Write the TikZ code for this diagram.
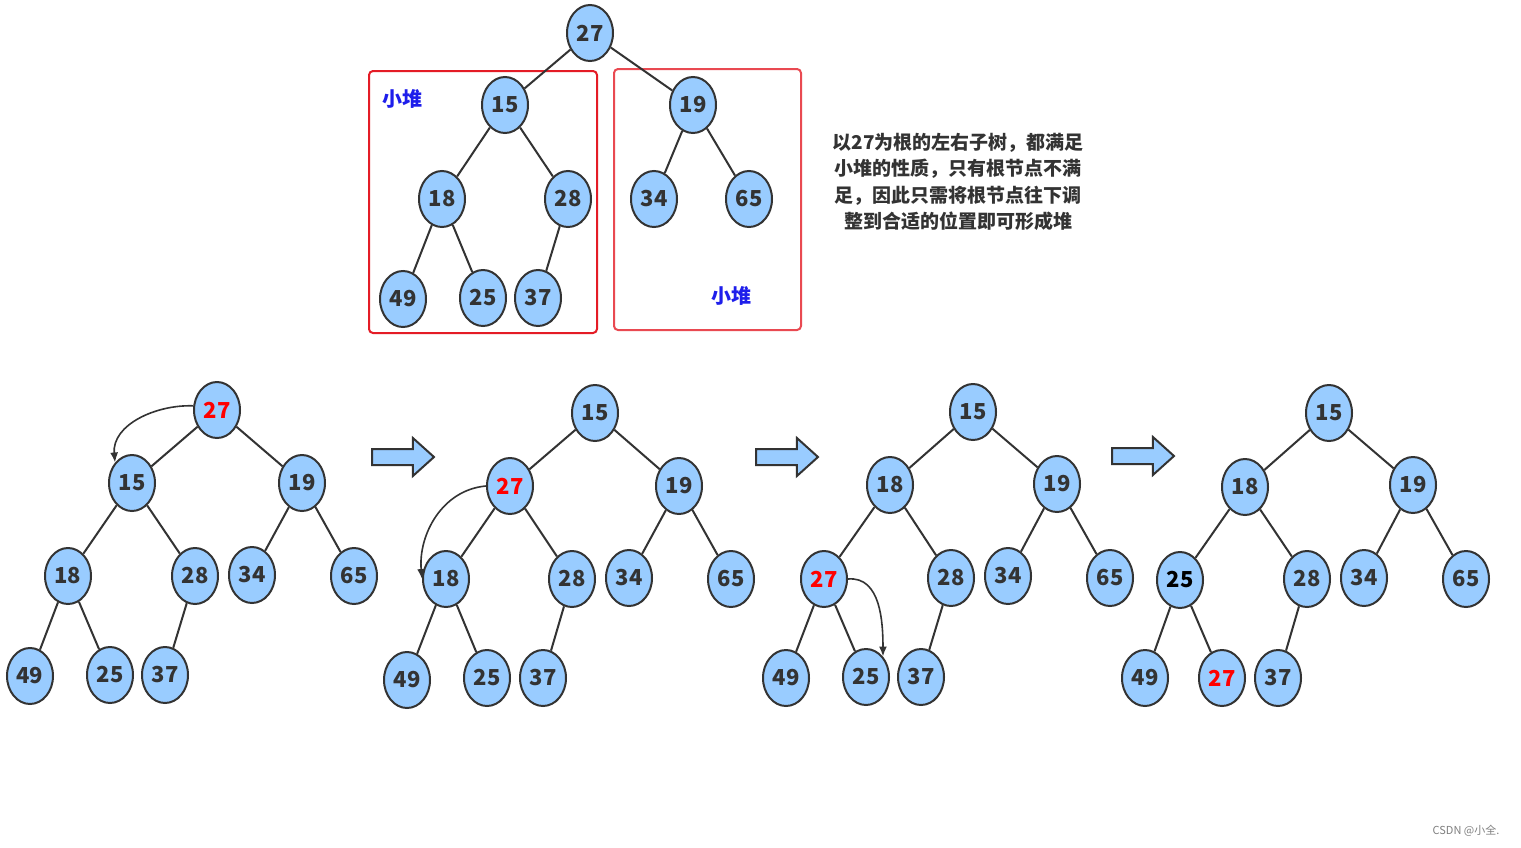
\documentclass[tikz,border=0pt]{standalone}
\usepackage{fontspec}
\setmainfont{Noto Sans CJK SC}
\usetikzlibrary{shapes.geometric, shapes.arrows, arrows.meta}

\definecolor{nodeblue}{RGB}{153,204,255}
\definecolor{linegray}{RGB}{51,51,51}
\definecolor{boxred}{RGB}{228,28,38}
\definecolor{heapblue}{RGB}{30,30,235}

\begin{document}
\begin{tikzpicture}[x=0.5pt, y=-0.5pt,
  hnode/.style={draw=linegray, line width=1pt, fill=nodeblue, ellipse, inner sep=0pt,
    minimum width=23pt, minimum height=28pt, text=linegray,
    font=\bfseries\fontsize{11}{11}\selectfont},
  hot/.style={hnode, text=red},
  edge/.style={draw=linegray, line width=1pt},
  swap/.style={draw=linegray, line width=0.8pt, -{Latex[length=5pt, width=4pt]}},
  blockarrow/.style={single arrow, draw=linegray, fill=nodeblue, line width=1pt,
    inner sep=3.5pt, minimum height=31pt, single arrow head extend=5.5pt,
    single arrow tip angle=84, anchor=tail},
  heaplabel/.style={text=heapblue, font=\bfseries\fontsize{10}{10}\selectfont}]
\useasboundingbox [fill=white] (0,0) rectangle (1521,847);

% the starting tree and its two sub heaps
\draw [boxred, line width=1pt, rounded corners=2pt] (369,71) rectangle (597,333);
\draw [boxred!80, line width=1pt, rounded corners=2pt] (614,69) rectangle (801,330);
\node [heaplabel] (lheap) at (402,99) {小堆};
\node [heaplabel] (rheap) at (731,296) {小堆};

\node [hnode] (t27) at (590,33) {27};
\node [hnode] (t15) at (505,105) {15};
\node [hnode] (t19) at (693,105) {19};
\node [hnode] (t18) at (442,199) {18};
\node [hnode] (t28) at (568,199) {28};
\node [hnode] (t34) at (654,199) {34};
\node [hnode] (t65) at (749,199) {65};
\node [hnode] (t49) at (403,299) {49};
\node [hnode] (t25) at (483,298) {25};
\node [hnode] (t37) at (538,298) {37};
\draw [edge] (t27) -- (t15);
\draw [edge] (t27) -- (t19);
\draw [edge] (t15) -- (t18);
\draw [edge] (t15) -- (t28);
\draw [edge] (t19) -- (t34);
\draw [edge] (t19) -- (t65);
\draw [edge] (t18) -- (t49);
\draw [edge] (t18) -- (t25);
\draw [edge] (t28) -- (t37);

\node [align=center, text=linegray, font=\bfseries\fontsize{9.5}{13.2}\selectfont] (note) at (958,182)
  {以27为根的左右子树，都满足\\小堆的性质，只有根节点不满\\足，因此只需将根节点往下调\\整到合适的位置即可形成堆};

% step 1
\node [hot] (a27) at (217,410) {27};
\node [hnode] (a15) at (132,483) {15};
\node [hnode] (a19) at (302,483) {19};
\node [hnode] (a18) at (68,576) {18};
\node [hnode] (a28) at (195,576) {28};
\node [hnode] (a34) at (252,575) {34};
\node [hnode] (a65) at (354,576) {65};
\node [hnode] (a49) at (30,676) {49};
\node [hnode] (a25) at (110,675) {25};
\node [hnode] (a37) at (165,675) {37};
\draw [edge] (a27) -- (a15);
\draw [edge] (a27) -- (a19);
\draw [edge] (a15) -- (a18);
\draw [edge] (a15) -- (a28);
\draw [edge] (a19) -- (a34);
\draw [edge] (a19) -- (a65);
\draw [edge] (a18) -- (a49);
\draw [edge] (a18) -- (a25);
\draw [edge] (a28) -- (a37);
\draw [swap] (a27.170) to[out=178, in=95] (a15.north west);

\node [blockarrow] (arr1) at (371,457) {};

% step 2
\node [hnode] (b15) at (595,413) {15};
\node [hot] (b27) at (510,486) {27};
\node [hnode] (b19) at (679,486) {19};
\node [hnode] (b18) at (446,579) {18};
\node [hnode] (b28) at (572,579) {28};
\node [hnode] (b34) at (629,578) {34};
\node [hnode] (b65) at (731,579) {65};
\node [hnode] (b49) at (407,680) {49};
\node [hnode] (b25) at (487,678) {25};
\node [hnode] (b37) at (543,678) {37};
\draw [edge] (b15) -- (b27);
\draw [edge] (b15) -- (b19);
\draw [edge] (b27) -- (b18);
\draw [edge] (b27) -- (b28);
\draw [edge] (b19) -- (b34);
\draw [edge] (b19) -- (b65);
\draw [edge] (b18) -- (b49);
\draw [edge] (b18) -- (b25);
\draw [edge] (b28) -- (b37);
\draw [swap] (b27.west) to[out=185, in=95] (b18.west);

\node [blockarrow] (arr2) at (755,457) {};

% step 3
\node [hnode] (c15) at (973,412) {15};
\node [hnode] (c18) at (890,485) {18};
\node [hnode] (c19) at (1057,484) {19};
\node [hot] (c27) at (824,579) {27};
\node [hnode] (c28) at (951,578) {28};
\node [hnode] (c34) at (1008,576) {34};
\node [hnode] (c65) at (1110,578) {65};
\node [hnode] (c49) at (786,678) {49};
\node [hnode] (c25) at (866,677) {25};
\node [hnode] (c37) at (921,677) {37};
\draw [edge] (c15) -- (c18);
\draw [edge] (c15) -- (c19);
\draw [edge] (c18) -- (c27);
\draw [edge] (c18) -- (c28);
\draw [edge] (c19) -- (c34);
\draw [edge] (c19) -- (c65);
\draw [edge] (c27) -- (c49);
\draw [edge] (c27) -- (c25);
\draw [edge] (c28) -- (c37);
\draw [swap] (c27.east) to[out=5, in=90] (c25.north east);

\node [blockarrow] (arr3) at (1111,456) {};

% result
\node [hnode] (d15) at (1329,413) {15};
\node [hnode] (d18) at (1245,487) {18};
\node [hnode] (d19) at (1413,485) {19};
\node [hnode, text=black] (d25) at (1180,580) {25};
\node [hnode] (d28) at (1307,579) {28};
\node [hnode] (d34) at (1364,578) {34};
\node [hnode] (d65) at (1466,579) {65};
\node [hnode] (d49) at (1145,678) {49};
\node [hot] (d27) at (1222,678) {27};
\node [hnode] (d37) at (1278,678) {37};
\draw [edge] (d15) -- (d18);
\draw [edge] (d15) -- (d19);
\draw [edge] (d18) -- (d25);
\draw [edge] (d18) -- (d28);
\draw [edge] (d19) -- (d34);
\draw [edge] (d19) -- (d65);
\draw [edge] (d25) -- (d49);
\draw [edge] (d25) -- (d27);
\draw [edge] (d28) -- (d37);

\node [text=gray, font=\fontsize{5.5}{6}\selectfont] (mark) at (1466,831) {CSDN @小全.};
\end{tikzpicture}
\end{document}
